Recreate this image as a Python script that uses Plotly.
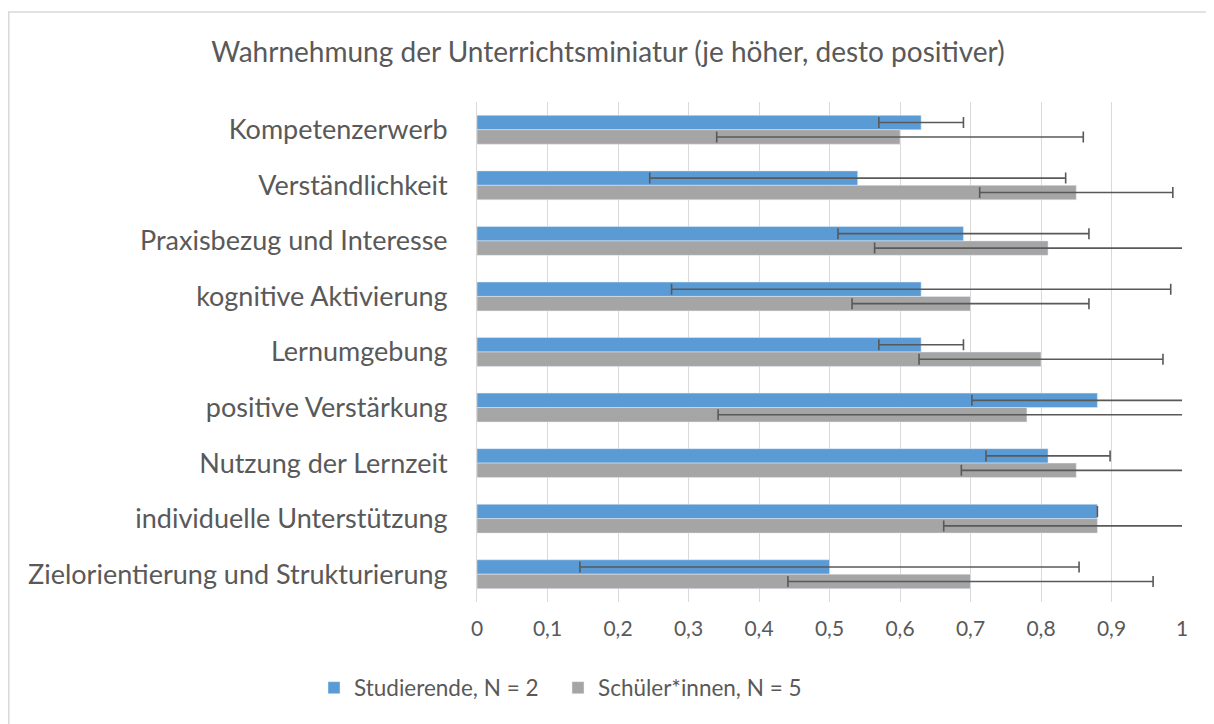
import plotly.graph_objects as go

categories = ["Kompetenzerwerb", "Verständlichkeit", "Praxisbezug und Interesse",
              "kognitive Aktivierung", "Lernumgebung", "positive Verstärkung",
              "Nutzung der Lernzeit", "individuelle Unterstützung",
              "Zielorientierung und Strukturierung"]
studierende = [0.63, 0.54, 0.69, 0.63, 0.63, 0.88, 0.81, 0.88, 0.50]
studierende_err = [0.06, 0.295, 0.178, 0.354, 0.06, 0.178, 0.088, 0.0, 0.354]
schueler = [0.60, 0.85, 0.81, 0.70, 0.80, 0.78, 0.85, 0.88, 0.70]
schueler_err = [0.26, 0.137, 0.246, 0.168, 0.173, 0.438, 0.163, 0.218, 0.259]
x_ticks = [0, 0.1, 0.2, 0.3, 0.4, 0.5, 0.6, 0.7, 0.8, 0.9, 1]
x_ticklabels = ["0", "0,1", "0,2", "0,3", "0,4", "0,5", "0,6", "0,7", "0,8", "0,9", "1"]

FONT = "Lato"
TXT = "#595959"
OFF = 8  # page body margin
W, H = 1214 - OFF, 724 - OFF
# plot area in reference (window) pixels
PL, PR, PT, PB = 477, 1182, 102, 602
L, R, T, B = PL - OFF, W - (PR - OFF), PT - OFF, H - (PB - OFF)
pw, ph = W - L - R, H - T - B

err_style = dict(type="data", symmetric=True, color="#595959", thickness=1.6, width=5.5)

fig = go.Figure()
fig.add_trace(go.Bar(
    y=categories, x=studierende, orientation="h", name="Studierende, N = 2",
    marker=dict(color="#5B9BD5"),
    error_x=dict(array=studierende_err, **err_style),
))
fig.add_trace(go.Bar(
    y=categories, x=schueler, orientation="h", name="Schüler*innen, N = 5",
    marker=dict(color="#A5A5A5"),
    error_x=dict(array=schueler_err, **err_style),
))

def px_x(p):
    return (p - PL) / pw

def px_y(p):
    return (PB - p) / ph

fig.update_layout(
    width=W, height=H,
    margin=dict(l=L, r=R, t=T, b=B),
    paper_bgcolor="white", plot_bgcolor="white",
    font=dict(family=FONT, color=TXT, size=22),
    barmode="group", bargap=0.48, bargroupgap=0,
    title=dict(text="Wahrnehmung der Unterrichtsminiatur (je höher, desto positiver)",
               x=(608 - OFF) / W, xanchor="center", xref="container",
               y=1 - (52 - OFF) / H, yanchor="middle", yref="container",
               font=dict(family=FONT, size=28, color=TXT)),
    xaxis=dict(range=[0, 1], tickvals=x_ticks, ticktext=x_ticklabels,
               showgrid=True, gridcolor="#D9D9D9", gridwidth=1,
               zeroline=False, showline=False, ticks="",
               tickfont=dict(family=FONT, size=21, color=TXT),
               ticklabelstandoff=12, fixedrange=True),
    yaxis=dict(categoryorder="array", categoryarray=categories, autorange="reversed",
               showgrid=False, zeroline=False, showline=True, linecolor="#D9D9D9",
               linewidth=1, ticks="", tickfont=dict(family=FONT, size=27, color=TXT),
               ticklabelstandoff=23, fixedrange=True),
    legend=dict(orientation="h", x=px_x(314), xanchor="left",
                y=px_y(688), yanchor="middle",
                entrywidth=199, entrywidthmode="pixels",
                font=dict(family=FONT, size=22.5, color=TXT),
                bgcolor="rgba(0,0,0,0)", itemclick=False, itemdoubleclick=False),
    shapes=[dict(type="rect", xref="paper", yref="paper",
                 x0=px_x(8.8), x1=px_x(1230), y0=px_y(740), y1=px_y(12),
                 line=dict(color="#D9D9D9", width=1.5), fillcolor="rgba(0,0,0,0)",
                 layer="below")],
)

fig.write_html("out.html")
